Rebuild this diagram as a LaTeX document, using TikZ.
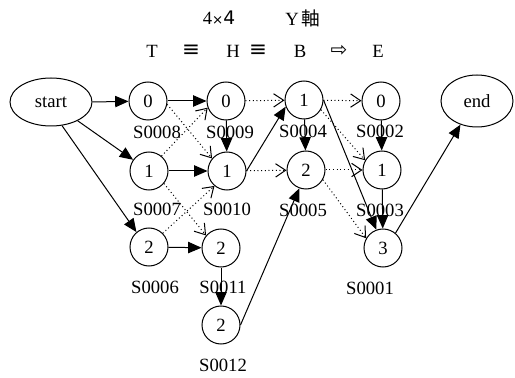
\documentclass[tikz,border=0pt]{standalone}
\usepackage{fontspec}
\setmainfont{Liberation Serif}
\newfontfamily\cjk{Noto Sans CJK JP}
\newfontfamily\symb{DejaVu Sans}
\usetikzlibrary{arrows.meta,shapes.geometric}

\begin{document}
\begin{tikzpicture}[x=0.75pt,y=-0.75pt,
  every node/.style={font=\fontsize{14}{16}\selectfont},
  state/.style={draw,circle,line width=0.75pt,minimum size=28.5pt,inner sep=0pt},
  term/.style={draw,ellipse,line width=0.75pt,inner sep=0pt},
  tag/.style={inner sep=0pt},
  flow/.style={line width=0.75pt,-{Triangle[length=10pt,width=8.5pt]}},
  hop/.style={line width=0.75pt,dotted,-{Straight Barb[length=7.5pt,width=10pt]}}]
\useasboundingbox (0,0) rectangle (515,378);
% headings
\node[tag] (size) at (219,18) {4\symb{\fontsize{10}{12}\selectfont×}4};
\node[tag] (axis) at (303,18) {Y\,\cjk{軸}};
\node[tag] (hT) at (152,51) {T};
\node[tag] (q1) at (191,51) {\symb{\fontsize{16}{16}\selectfont≡}};
\node[tag] (hH) at (233,51) {H};
\node[tag] (q2) at (258,51) {\symb{\fontsize{16}{16}\selectfont≡}};
\node[tag] (hB) at (300,51) {B};
\node[tag] (q3) at (339,51) {\symb{\fontsize{15}{16}\selectfont⇨}};
\node[tag] (hE) at (378,51) {E};
% start / end
\node[term,minimum width=61.5pt,minimum height=36pt] (start) at (51,102) {start};
\node[term,minimum width=54pt,minimum height=39pt] (end) at (477,101) {end};
% states
\node[state] (t0) at (148,101) {0};
\node[state] (t1) at (149,171) {1};
\node[state] (t2) at (149,247) {2};
\node[state] (h0) at (226,101) {0};
\node[state] (h1) at (227,171) {1};
\node[state] (h2) at (221,248) {2};
\node[state] (h3) at (221,325) {2};
\node[state] (b1) at (304,100) {1};
\node[state] (b2) at (306,170) {2};
\node[state] (e0) at (381,101) {0};
\node[state] (e1) at (382,170) {1};
\node[state] (e3) at (383,248) {3};
% state names
\node[tag] (n8) at (157,132) {S0008};
\node[tag] (n9) at (230,132) {S0009};
\node[tag] (n4) at (303,131) {S0004};
\node[tag] (n2) at (380,131) {S0002};
\node[tag] (n7) at (157,209) {S0007};
\node[tag] (n10) at (227,209) {S0010};
\node[tag] (n5) at (303,210) {S0005};
\node[tag] (n3) at (380,210) {S0003};
\node[tag] (n6) at (155,287) {S0006};
\node[tag] (n11) at (223,287) {S0011};
\node[tag] (n12) at (223,365) {S0012};
\node[tag] (n1) at (370,288) {S0001};
% solid moves
\draw[flow] (start.east) -- (t0);
\draw[flow] (start) -- (t1);
\draw[flow] (start.-65) -- (t2.130);
\draw[flow] (t0) -- (h0);
\draw[flow] (t1) -- (h1);
\draw[flow] (t2) -- (h2);
\draw[flow] (h0) -- (h1);
\draw[flow] (h2) -- (h3);
\draw[flow] (h1.east) -- (b1.200);
\draw[flow] (h3.east) -- (b2.250);
\draw[flow] (b1) -- (b2);
\draw[flow] (b1.east) -- (e3.110);
\draw[flow] (e0) -- (e1);
\draw[flow] (e1) -- (e3);
\draw[flow] (e3.50) -- (end.235);
% dotted moves
\draw[hop] (h0) -- (b1);
\draw[hop] (b1) -- (e0);
\draw[hop] (h1) -- (b2);
\draw[hop] (b2) -- (e1);
\draw[hop] (t0.-10) -- (h1.140);
\draw[hop] (t1.50) -- (h0.200);
\draw[hop] (t1.-40) -- (h2.140);
\draw[hop] (t2.45) -- (h1.230);
\draw[hop] (b1.-30) -- (e1.150);
\draw[hop] (b2.-30) -- (e3.150);
\end{tikzpicture}
\end{document}
